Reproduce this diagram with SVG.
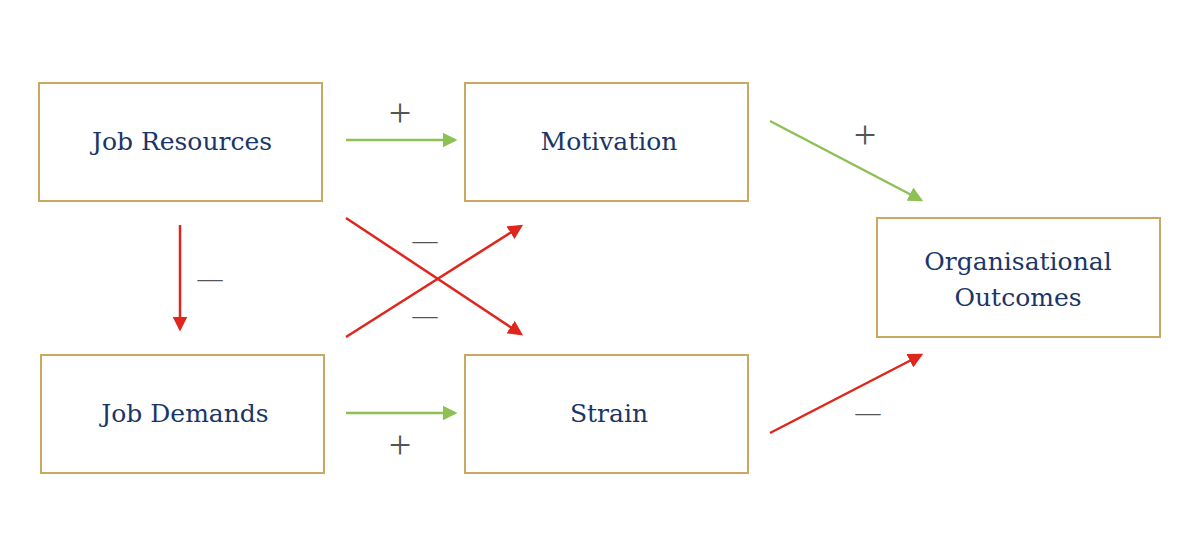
<svg xmlns="http://www.w3.org/2000/svg" width="1200" height="559" viewBox="0 0 1200 559">
<style>
.box{fill:#fff;stroke:#c9a860;stroke-width:2}
.lbl{font-family:"DejaVu Serif","Liberation Serif",serif;font-size:25px;fill:#1a3668;text-anchor:middle;dominant-baseline:central}
.sign{font-family:"Liberation Serif",serif;font-size:40px;fill:#555;text-anchor:middle;dominant-baseline:central}
.dash{font-family:"Liberation Serif",serif;font-size:25px;fill:#555;text-anchor:middle;dominant-baseline:central}
.g{stroke:#8dc155;stroke-width:2.5;fill:none;marker-end:url(#ag)}
.r{stroke:#e0261c;stroke-width:2.5;fill:none;marker-end:url(#ar)}
</style>
<defs>
<marker id="ag" markerWidth="6" markerHeight="6" refX="5" refY="3" orient="auto" markerUnits="strokeWidth"><path d="M0,0 L6,3 L0,6 z" fill="#8dc155"/></marker>
<marker id="ar" markerWidth="6" markerHeight="6" refX="5" refY="3" orient="auto" markerUnits="strokeWidth"><path d="M0,0 L6,3 L0,6 z" fill="#e0261c"/></marker>
</defs>
<rect width="1200" height="559" fill="#fff"/>
<g id="connectors">
<line class="g" x1="346" y1="140" x2="455" y2="140"/>
<line class="r" x1="180" y1="225" x2="180" y2="329"/>
<line class="r" x1="346" y1="218" x2="521" y2="334"/>
<line class="r" x1="346" y1="337" x2="521" y2="226"/>
<line class="g" x1="346" y1="413" x2="455" y2="413"/>
<line class="g" x1="770" y1="121" x2="921" y2="200"/>
<line class="r" x1="770" y1="433" x2="921" y2="355"/>
<text class="sign" x="400" y="112">+</text>
<text class="dash" x="210" y="278">—</text>
<text class="dash" x="425" y="240">—</text>
<text class="dash" x="425" y="315">—</text>
<text class="sign" x="400" y="444">+</text>
<text class="sign" x="865" y="134">+</text>
<text class="dash" x="868" y="412">—</text>
</g>
<g id="job-resources"><rect class="box" x="39" y="83" width="283" height="118"/><text class="lbl" x="182" y="141">Job Resources</text></g>
<g id="motivation"><rect class="box" x="465" y="83" width="283" height="118"/><text class="lbl" x="609" y="141">Motivation</text></g>
<g id="organisational-outcomes"><rect class="box" x="877" y="218" width="283" height="119"/><text class="lbl" x="1018" y="261">Organisational</text><text class="lbl" x="1018" y="297">Outcomes</text></g>
<g id="job-demands"><rect class="box" x="41" y="355" width="283" height="118"/><text class="lbl" x="185" y="413">Job Demands</text></g>
<g id="strain"><rect class="box" x="465" y="355" width="283" height="118"/><text class="lbl" x="609" y="413">Strain</text></g>
</svg>
